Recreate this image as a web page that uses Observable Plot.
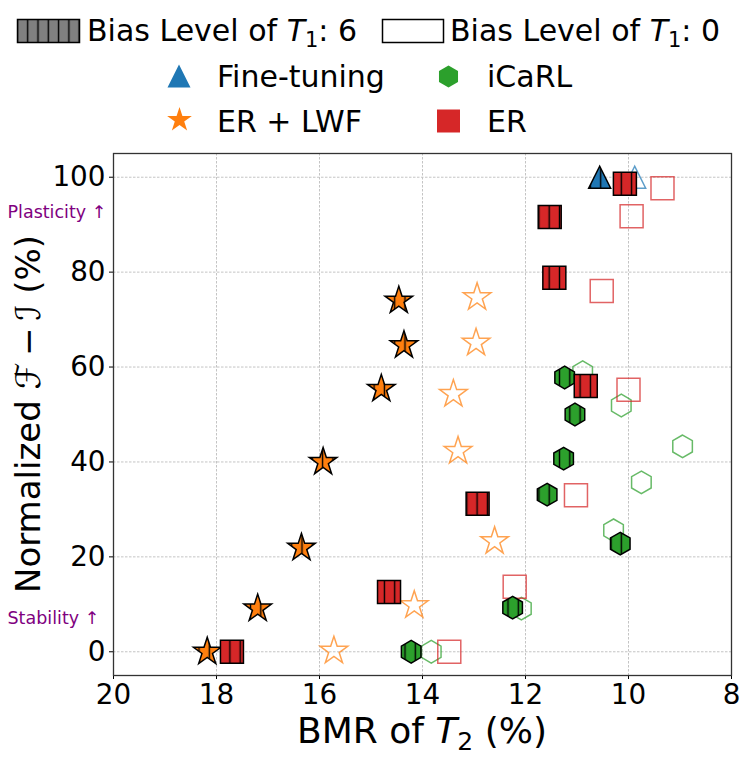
<!DOCTYPE html>
<html><head><meta charset="utf-8">
<script src="https://cdn.jsdelivr.net/npm/d3@7"></script>
<script src="https://cdn.jsdelivr.net/npm/@observablehq/plot@0.6"></script>
<style>
body{margin:0;background:#fff;font-family:"DejaVu Sans",sans-serif;}
#wrap{width:747px;}
svg{display:block}
</style></head><body><div id="wrap"><svg id="legend" width="747" height="150"></svg><div id="chart"></div></div>
<script>
// ---------- data ----------
const methods = ["Fine-tuning", "ER + LWF", "iCaRL", "ER"];
const colors = ["#1f77b4", "#ff7f0e", "#2ca02c", "#d62728"];
const xTicks = [20, 18, 16, 14, 12, 10, 8];
const yTicks = [0, 20, 40, 60, 80, 100];

// Bias level 6 (filled, hatched) and bias level 0 (open)
const ftBias6X = [10.56];
const ftBias6Y = [100];
const ftBias0X = [9.88];
const ftBias0Y = [100];

const erlwfBias6X = [14.46, 14.36, 14.80, 15.93, 16.35, 17.20, 18.18];
const erlwfBias6Y = [74.0, 64.6, 55.4, 40.0, 21.9, 9.1, 0];
const erlwfBias0X = [12.94, 12.96, 13.40, 13.31, 12.60, 14.16, 15.72];
const erlwfBias0Y = [74.7, 65.1, 54.3, 42.3, 23.3, 9.8, 0.2];

const icarlBias6X = [11.24, 11.04, 11.26, 11.58, 10.16, 12.25, 14.22];
const icarlBias6Y = [57.8, 50.0, 40.7, 33.1, 22.8, 9.3, 0];
const icarlBias0X = [10.89, 10.14, 8.95, 9.75, 10.29, 12.08, 13.83];
const icarlBias0Y = [58.9, 51.9, 43.3, 35.7, 25.6, 9.1, 0];

const erBias6X = [10.07, 11.53, 11.44, 10.83, 12.93, 14.65, 17.70];
const erBias6Y = [98.6, 91.6, 78.8, 56.0, 31.2, 12.6, 0];
const erBias0X = [9.34, 9.94, 10.52, 10.00, 11.02, 12.21, 13.48];
const erBias0Y = [97.7, 91.8, 76.0, 55.2, 33.0, 13.7, 0];

const annotations = [
  {label: "Plasticity \u2191", y: 92.5},
  {label: "Stability \u2191", y: 7.1}
];

// ---------- build table ----------
const series = [
  {method: "Fine-tuning", bias: 6, x: ftBias6X, y: ftBias6Y},
  {method: "ER + LWF", bias: 6, x: erlwfBias6X, y: erlwfBias6Y},
  {method: "iCaRL", bias: 6, x: icarlBias6X, y: icarlBias6Y},
  {method: "ER", bias: 6, x: erBias6X, y: erBias6Y},
  {method: "Fine-tuning", bias: 0, x: ftBias0X, y: ftBias0Y},
  {method: "ER + LWF", bias: 0, x: erlwfBias0X, y: erlwfBias0Y},
  {method: "iCaRL", bias: 0, x: icarlBias0X, y: icarlBias0Y},
  {method: "ER", bias: 0, x: erBias0X, y: erBias0Y}
];
const rows = series.flatMap(s => s.x.map((x, i) => ({method: s.method, bias: s.bias, x, y: s.y[i]})));
const filled = rows.filter(d => d.bias === 6);
const open = rows.filter(d => d.bias === 0);

// ---------- matplotlib-like marker shapes ----------
function triangle(ctx, R) { ctx.moveTo(0, -R); ctx.lineTo(-R, R); ctx.lineTo(R, R); ctx.closePath(); }
function square(ctx, R) { ctx.moveTo(-R, -R); ctx.lineTo(R, -R); ctx.lineTo(R, R); ctx.lineTo(-R, R); ctx.closePath(); }
function hexagon(ctx, R) {
  for (let k = 0; k < 6; k++) {
    const a = Math.PI / 2 + k * Math.PI / 3;
    const px = R * Math.cos(a), py = -R * Math.sin(a);
    k ? ctx.lineTo(px, py) : ctx.moveTo(px, py);
  }
  ctx.closePath();
}
function star(ctx, R) {
  for (let k = 0; k < 10; k++) {
    const r = k % 2 ? R * 0.381966 : R;
    const a = Math.PI / 2 + k * Math.PI / 5;
    const px = r * Math.cos(a), py = -r * Math.sin(a);
    k ? ctx.lineTo(px, py) : ctx.moveTo(px, py);
  }
  ctx.closePath();
}
const shapeFns = [triangle, star, hexagon, square];
const plotR = [11, 14.5, 11.3, 11.5];
const plotSymbols = shapeFns.map((fn, i) => ({draw(ctx) { fn(ctx, plotR[i]); }}));

// ---------- chart ----------
const W = 747, H = 607, mT = 3, mB = 82, mL = 113, mR = 16;
const gridStyle = {stroke: "#c4c4c4", strokeOpacity: 1, strokeWidth: 1, strokeDasharray: "2.5,1.5"};
const chart = Plot.plot({
  width: W, height: H, marginTop: mT, marginBottom: mB, marginLeft: mL, marginRight: mR,
  style: {fontFamily: "DejaVu Sans", fontSize: "27.8px", color: "black", background: "white", overflow: "visible"},
  x: {domain: [20, 8]},
  y: {domain: [-5, 105]},
  color: {domain: methods, range: colors},
  symbol: {domain: methods, range: plotSymbols},
  marks: [
    Plot.gridX(xTicks, gridStyle),
    Plot.gridY(yTicks, gridStyle),
    Plot.axisX(xTicks, {tickSize: 4, tickPadding: 5, label: null, fontSize: 27.8, tickFormat: d => `${d}`}),
    Plot.axisY(yTicks, {tickSize: 4, tickPadding: 4, label: null, fontSize: 27.8, tickFormat: d => `${d}`}),
    Plot.dot(open, {x: "x", y: "y", symbol: "method", stroke: "method", fill: "none", strokeWidth: 1.5, strokeOpacity: 0.72}),
    Plot.dot(filled, {x: "x", y: "y", symbol: "method", fill: "method", stroke: "black", strokeWidth: 1.5}),
    Plot.text(annotations, {y: "y", text: "label", frameAnchor: "left", dx: -106, textAnchor: "start", fill: "#800080", fontSize: 17.5}),
    Plot.frame({stroke: "#333", strokeWidth: 1.3})
  ]
});
document.getElementById("chart").appendChild(chart);

// ---------- hatch ('|') anchored to a global pixel grid ----------
const NS = "http://www.w3.org/2000/svg";
const S = 10.3, phase = 2.8;
const defs = document.createElementNS(NS, "defs");
chart.insertBefore(defs, chart.firstChild);
const dotGroups = chart.querySelectorAll('g[aria-label="dot"]');
const filledGroup = dotGroups[dotGroups.length - 1];
if (filledGroup) {
  filledGroup.querySelectorAll("path").forEach((p, i) => {
    const m = (p.getAttribute("transform") || "").match(/translate\(\s*([-\d.e]+)[ ,]+([-\d.e]+)\s*\)/);
    const tx = m ? +m[1] : 0;
    const col = p.getAttribute("fill") || "#888";
    const pat = document.createElementNS(NS, "pattern");
    pat.setAttribute("id", "hatch" + i);
    pat.setAttribute("patternUnits", "userSpaceOnUse");
    pat.setAttribute("width", S); pat.setAttribute("height", 40);
    pat.setAttribute("x", (((phase - tx - S / 2) % S) + S) % S);
    pat.setAttribute("y", 0);
    const bg = document.createElementNS(NS, "rect");
    bg.setAttribute("width", S); bg.setAttribute("height", 40); bg.setAttribute("fill", col);
    const ln = document.createElementNS(NS, "rect");
    ln.setAttribute("x", S / 2 - 0.7); ln.setAttribute("width", 1.4); ln.setAttribute("height", 40); ln.setAttribute("fill", "black");
    pat.appendChild(bg); pat.appendChild(ln); defs.appendChild(pat);
    p.setAttribute("fill", `url(#hatch${i})`);
  });
}

// ---------- axis labels ----------
const svgSel = d3.select(chart);
const xl = svgSel.append("text")
  .attr("x", mL + (W - mL - mR) / 2).attr("y", H - 14)
  .attr("text-anchor", "middle").attr("font-size", 36).attr("fill", "black");
xl.append("tspan").text("BMR of ");
xl.append("tspan").attr("font-style", "italic").text("T");
xl.append("tspan").attr("font-size", 25).attr("dy", 7).text("2");
xl.append("tspan").attr("dy", -7).text(" (%)");

svgSel.append("text")
  .attr("transform", `translate(40,${mT + (H - mT - mB) / 2}) rotate(-90)`)
  .attr("text-anchor", "middle").attr("font-size", 34).attr("fill", "black")
  .text("Normalized \u2131\u2009\u2212\u2009\u2110 (%)");

// ---------- legend ----------
const lg = d3.select("#legend");
const ldefs = lg.append("defs");
const lp = ldefs.append("pattern").attr("id", "lhatch").attr("patternUnits", "userSpaceOnUse")
  .attr("width", S).attr("height", 40).attr("x", 7.1 - S / 2);
lp.append("rect").attr("width", S).attr("height", 40).attr("fill", "#808080");
lp.append("rect").attr("x", S / 2 - 0.7).attr("width", 1.4).attr("height", 40).attr("fill", "black");

lg.append("rect").attr("x", 17.5).attr("y", 19.5).attr("width", 62).attr("height", 23)
  .attr("fill", "url(#lhatch)").attr("stroke", "black").attr("stroke-width", 1.5);
lg.append("rect").attr("x", 382.5).attr("y", 19.5).attr("width", 61).attr("height", 23)
  .attr("fill", "white").attr("stroke", "black").attr("stroke-width", 1.5);

function biasText(x, level) {
  const t = lg.append("text").attr("x", x).attr("y", 41).attr("font-size", 30).attr("fill", "black");
  t.append("tspan").text("Bias Level of ");
  t.append("tspan").attr("font-style", "italic").text("T");
  t.append("tspan").attr("font-size", 21).attr("dy", 6).text("1");
  t.append("tspan").attr("dy", -6).text(`: ${level}`);
}
biasText(87, 6);
biasText(450, 0);

const legendR = [11.5, 13, 11, 11.5];
const legendPos = [[179, 76, 217, 87], [179.5, 120, 217, 132], [448.5, 76.5, 487, 87], [448.5, 121, 487, 132]];
methods.forEach((m, i) => {
  const [cx, cy, tx, ty] = legendPos[i];
  const p = d3.path(); shapeFns[i](p, legendR[i]);
  lg.append("path").attr("d", p.toString()).attr("transform", `translate(${cx},${cy})`).attr("fill", colors[i]);
  lg.append("text").attr("x", tx).attr("y", ty).attr("font-size", 30).attr("fill", "black").text(m);
});
</script></body></html>
